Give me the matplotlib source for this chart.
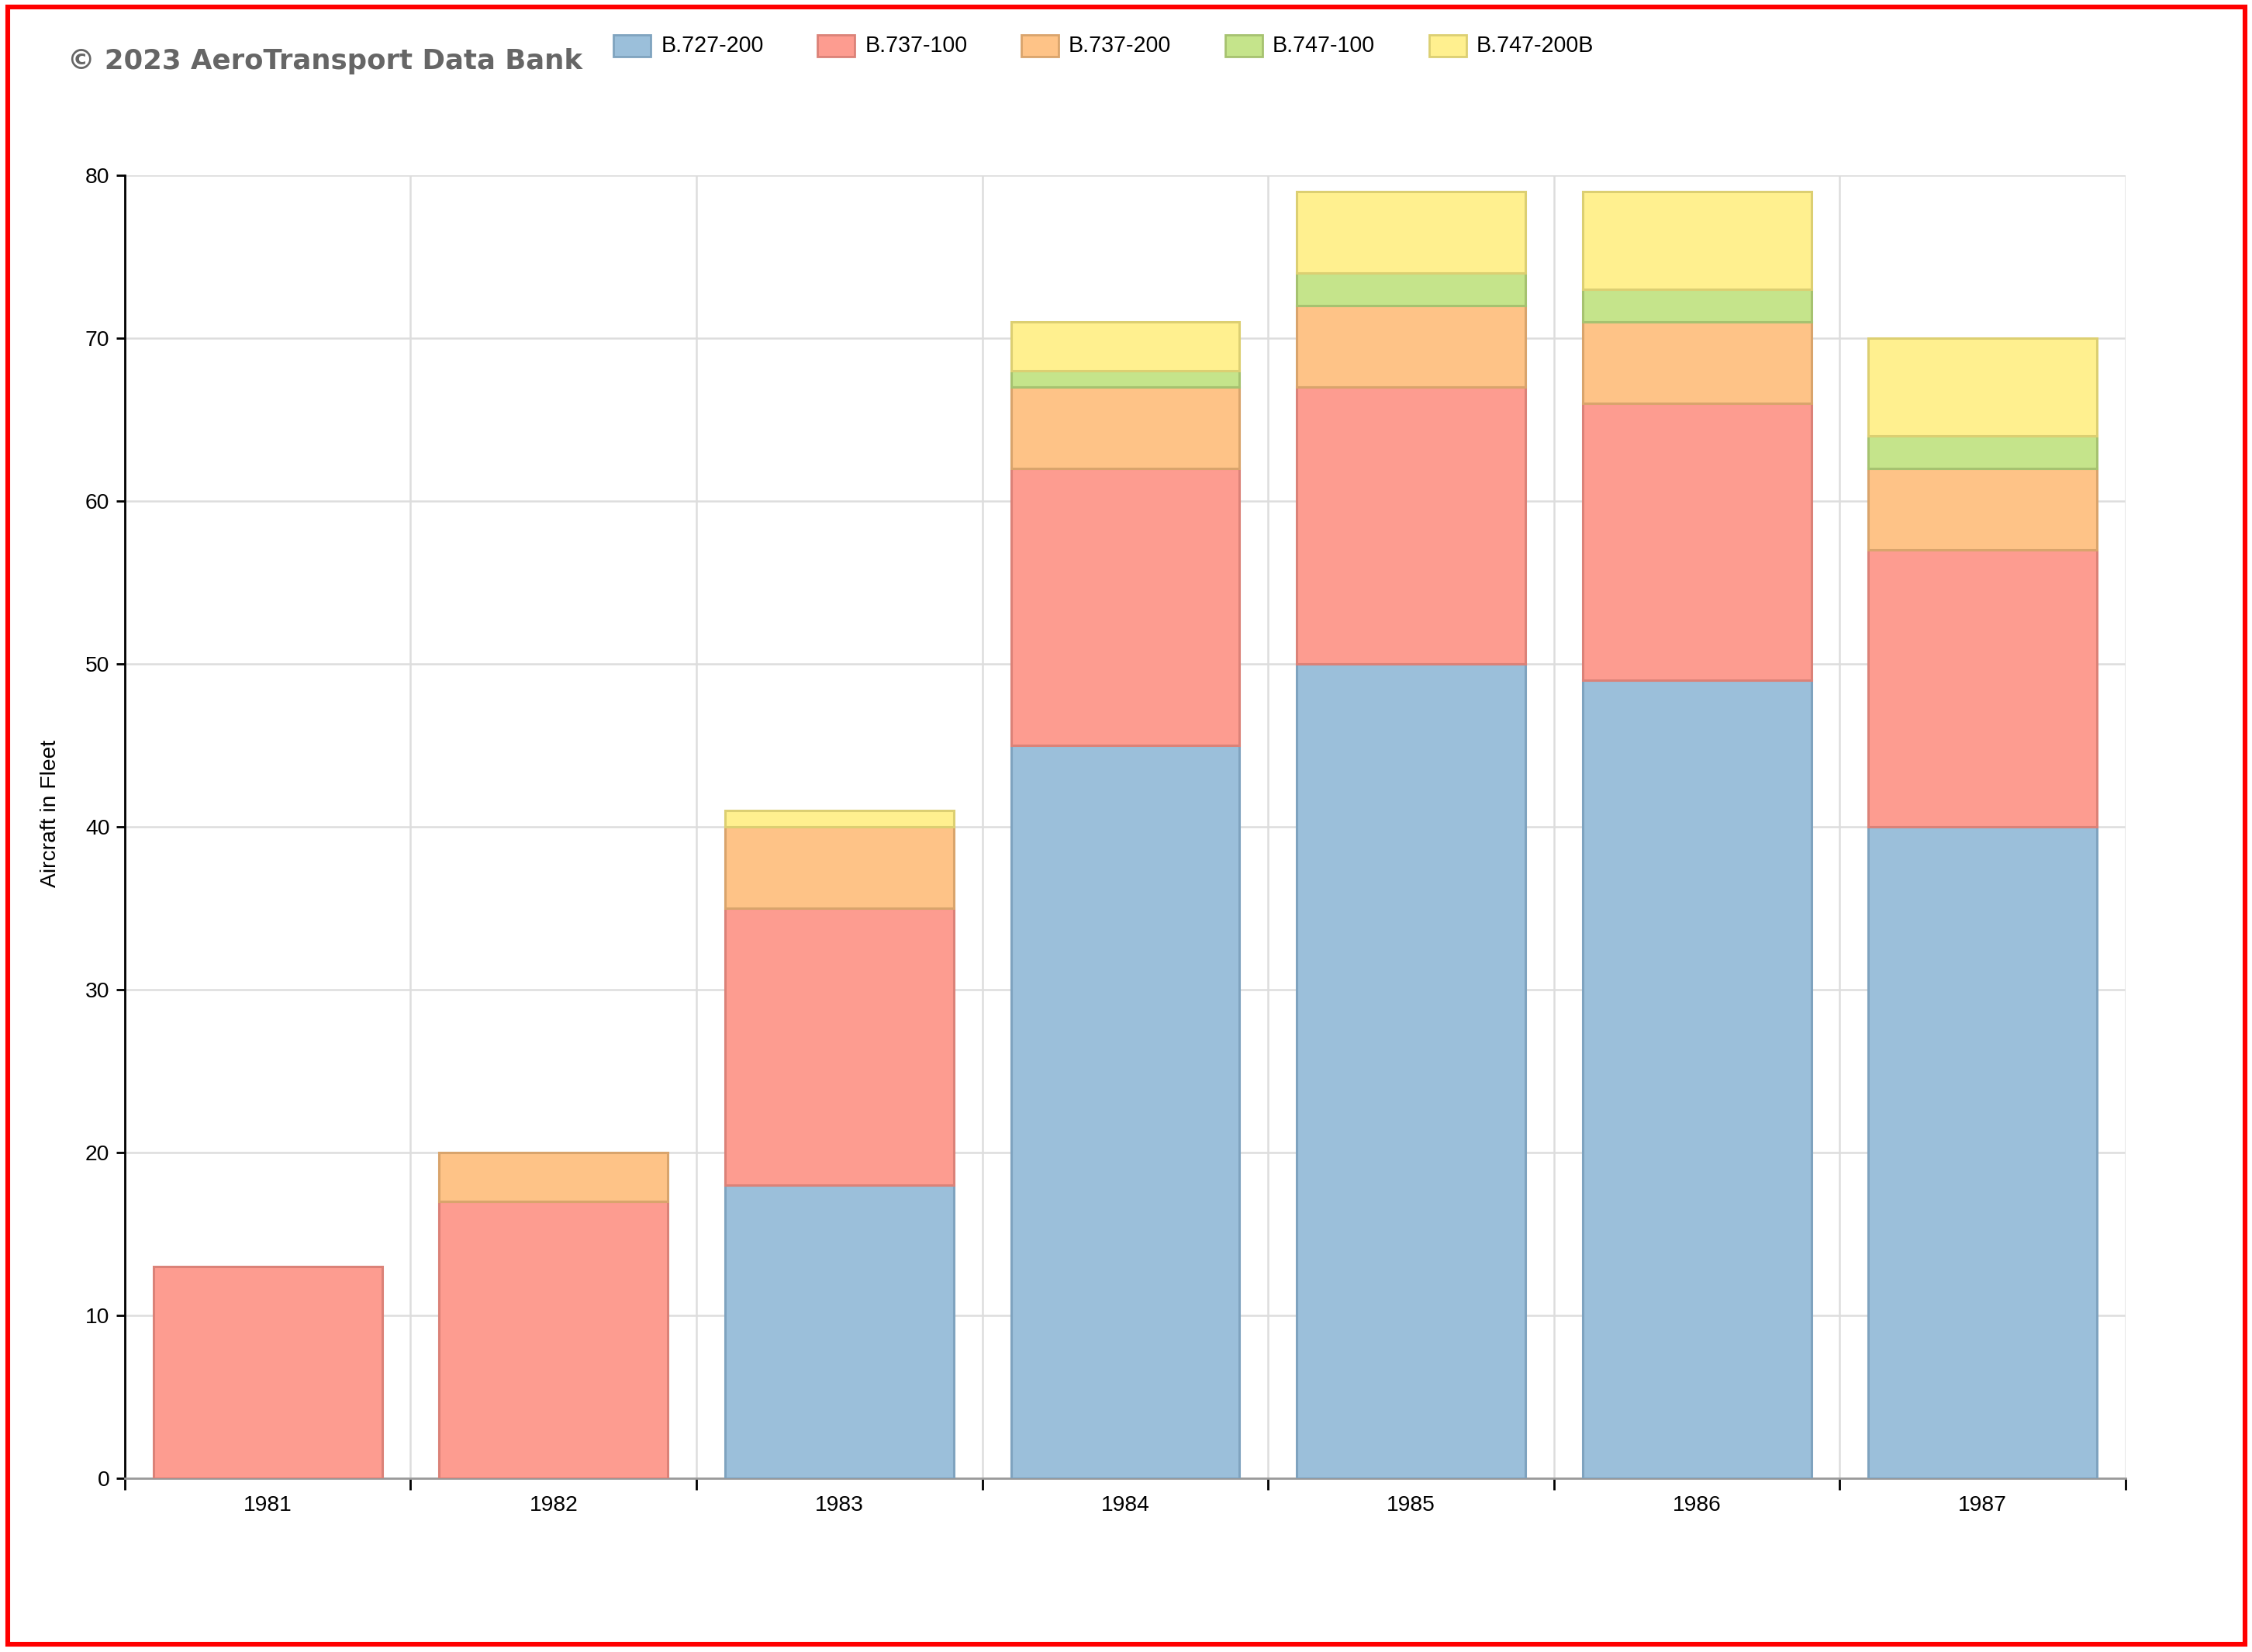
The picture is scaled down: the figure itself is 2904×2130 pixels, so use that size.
import matplotlib
matplotlib.use("Agg")
import matplotlib.pyplot as plt
import matplotlib.patches as patches
import numpy as np

# ===== DỮ LIỆU =====
years = ["1981", "1982", "1983", "1984", "1985", "1986", "1987"]
series_names = ["B.727-200", "B.737-100", "B.737-200", "B.747-100", "B.747-200B"]
b727_200 = [0, 0, 18, 45, 50, 49, 40]
b737_100 = [13, 17, 17, 17, 17, 17, 17]
b737_200 = [0, 3, 5, 5, 5, 5, 5]
b747_100 = [0, 0, 0, 1, 2, 2, 2]
b747_200b = [0, 0, 1, 3, 5, 6, 6]
y_ticks = [0, 10, 20, 30, 40, 50, 60, 70, 80]

fill_colors = ["#9bbfda", "#fd9c90", "#fec387", "#c5e48b", "#fff08f"]
edge_colors = ["#7fa3bf", "#db8278", "#d9a46c", "#a6c270", "#dccf72"]

plt.rcParams["font.family"] = ["Liberation Sans", "DejaVu Sans"]

fig = plt.figure(figsize=(14.52, 10.65), dpi=200)
ax = fig.add_axes([0.0554, 0.1052, 0.8885, 0.7888])

x = np.arange(len(years))
bottom = np.zeros(len(years))
all_series = [b727_200, b737_100, b737_200, b747_100, b747_200b]
for vals, fc, ec in zip(all_series, fill_colors, edge_colors):
    vals = np.array(vals, dtype=float)
    mask = vals > 0
    ax.bar(x[mask], vals[mask], width=0.8, bottom=bottom[mask],
           color=fc, edgecolor=ec, linewidth=1.1, zorder=3)
    bottom += vals

# trục và lưới
ax.set_xlim(-0.5, len(years) - 0.5)
ax.set_ylim(0, 80)
ax.set_yticks(y_ticks)
ax.set_xticks(np.arange(-0.5, len(years)))
ax.set_xticklabels([])
ax.set_xticks(x, minor=True)
ax.set_xticklabels(years, minor=True)
ax.tick_params(axis="x", which="major", length=5.5, width=1.0, color="black")
ax.tick_params(axis="x", which="minor", length=0, pad=8, labelsize=10.2)
ax.tick_params(axis="y", length=4, width=1.0, pad=3, labelsize=10.2)
ax.grid(True, which="major", color="#dddddd", linewidth=0.9, zorder=0)
ax.set_axisbelow(True)
for s in ["top", "right"]:
    ax.spines[s].set_visible(False)
ax.spines["left"].set_color("black")
ax.spines["left"].set_linewidth(1.0)
ax.spines["bottom"].set_color("#999999")
ax.spines["bottom"].set_linewidth(1.0)
ax.set_ylabel("Aircraft in Fleet", fontsize=10.2)
ax.yaxis.set_label_coords(-0.032, 0.51)

# tiêu đề
fig.text(0.030, 0.963, "\u00a9 2023 AeroTransport Data Bank", fontsize=12.8,
         fontweight="bold", color="#666666", family="DejaVu Sans",
         ha="left", va="center")

# chú thích
leg_x0 = 0.2725
leg_step = 0.0905
for i, (name, fc, ec) in enumerate(zip(series_names, fill_colors, edge_colors)):
    lx = leg_x0 + i * leg_step
    rect = patches.Rectangle((lx, 0.9655), 0.0165, 0.0135, transform=fig.transFigure,
                             facecolor=fc, edgecolor=ec, linewidth=1.0)
    fig.patches.append(rect)
    fig.text(lx + 0.021, 0.9725, name, fontsize=10.3, ha="left", va="center")

# viền đỏ
border = patches.Rectangle((0.0035, 0.0045), 0.9935, 0.9915, transform=fig.transFigure,
                           fill=False, edgecolor="red", linewidth=2.2)
fig.patches.append(border)

fig.savefig("out.png", dpi=200)
